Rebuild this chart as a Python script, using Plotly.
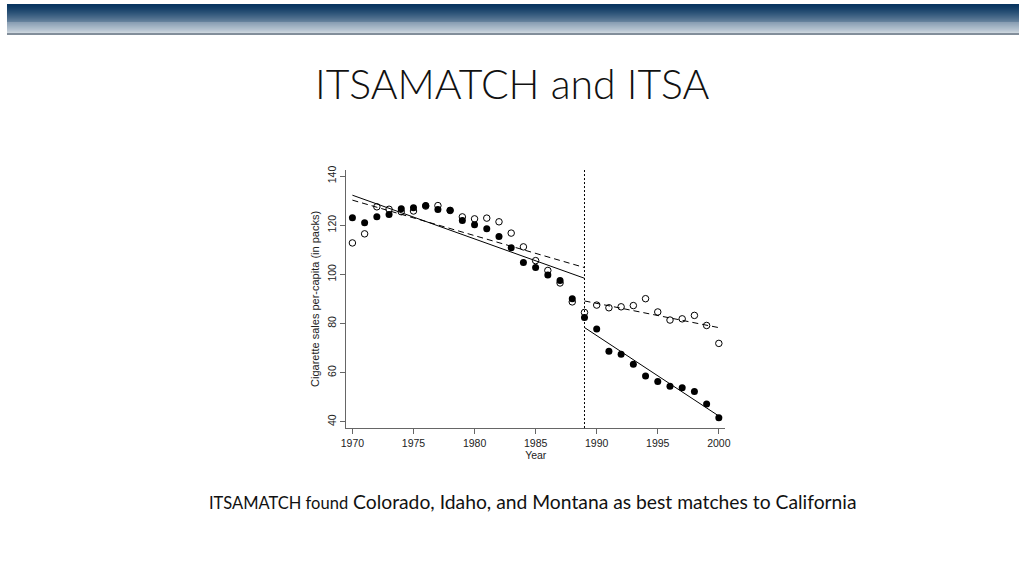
import numpy as np
import plotly.graph_objects as go

# ---- data ----
years = list(range(1970, 2001))
california = [123.0, 121.0, 123.5, 124.4, 126.7, 127.1, 128.0, 126.4, 126.1, 121.9,
              120.2, 118.6, 115.4, 110.8, 104.8, 102.8, 99.7, 97.5, 90.1, 82.4,
              77.8, 68.7, 67.5, 63.4, 58.6, 56.4, 54.5, 53.8, 52.3, 47.2, 41.6]
controls = [112.8, 116.5, 127.5, 126.5, 125.5, 125.8, 127.8, 128.0, 126.0, 123.4,
            122.6, 122.9, 121.4, 116.8, 111.2, 105.6, 101.6, 96.5, 88.8, 84.5,
            87.5, 86.4, 86.8, 87.3, 90.1, 84.7, 81.4, 81.9, 83.3, 79.2, 71.9]
intervention_year = 1989
x_ticks = [1970, 1975, 1980, 1985, 1990, 1995, 2000]
y_ticks = [40, 60, 80, 100, 120, 140]

title_text = "ITSAMATCH and ITSA"
caption_small = "ITSAMATCH found"
caption_big = "Colorado, Idaho, and Montana as best matches to California"
x_title = "Year"
y_title = "Cigarette sales per-capita (in packs)"

yrs = np.array(years)
cal = np.array(california)
ctl = np.array(controls)
pre = yrs < intervention_year
post = yrs >= intervention_year


def seg_fit(y, mask, x_from, x_to):
    b, a = np.polyfit(yrs[mask], y[mask], 1)
    xs = np.array([x_from, x_to], dtype=float)
    return xs, a + b * xs


fig = go.Figure()

fig.add_trace(go.Scatter(x=years, y=controls, mode="markers",
                         marker=dict(symbol="circle-open", size=6.5, color="black",
                                     line=dict(width=1, color="black")),
                         showlegend=False))
fig.add_trace(go.Scatter(x=years, y=california, mode="markers",
                         marker=dict(symbol="circle", size=7, color="black"),
                         showlegend=False))

for y, dash in [(cal, "solid"), (ctl, "6px,4px")]:
    xs, ys = seg_fit(y, pre, years[0], intervention_year)
    fig.add_trace(go.Scatter(x=xs, y=ys, mode="lines",
                             line=dict(color="black", width=1, dash=dash), showlegend=False))
    xs, ys = seg_fit(y, post, intervention_year, years[-1])
    fig.add_trace(go.Scatter(x=xs, y=ys, mode="lines",
                             line=dict(color="black", width=1, dash=dash), showlegend=False))

W, H = 1024, 576
x0p, x1p, y0p, y1p = 344, 727, 167, 427

shapes = []
# header gradient
top = np.array([8, 53, 96])
bot = np.array([186, 199, 211])
n = 29
for i in range(n):
    t = (i / (n - 1)) ** 1.3
    c = top * (1 - t) + bot * t
    shapes.append(dict(type="rect", xref="paper", yref="paper",
                       x0=1 / W, x1=1, y0=1 - (i + 1) / H, y1=1 - i / H,
                       line=dict(width=0), fillcolor="rgb(%d,%d,%d)" % tuple(c.astype(int)),
                       layer="below"))
shapes.append(dict(type="rect", xref="paper", yref="paper", x0=1 / W, x1=1,
                   y0=1 - 31 / H, y1=1 - 29.5 / H, line=dict(width=0),
                   fillcolor="rgb(88,104,120)", layer="below"))
# intervention line
shapes.append(dict(type="line", xref="x", yref="paper", x0=intervention_year, x1=intervention_year,
                   y0=1 - y1p / H, y1=1 - y0p / H,
                   line=dict(color="black", width=1, dash="2px,2px")))

axis_font = dict(family="Liberation Sans, Arial", size=10.5, color="#222")

fig.update_layout(
    width=W, height=H, autosize=False,
    margin=dict(l=0, r=0, t=0, b=0),
    paper_bgcolor="white", plot_bgcolor="white",
    shapes=shapes,
    xaxis=dict(domain=[x0p / W, x1p / W], range=[1969.5, 2000.52],
               tickvals=x_ticks, ticks="outside", ticklen=5, tickcolor="#666",
               showline=True, linecolor="#666", linewidth=1, showgrid=False, zeroline=False,
               tickfont=axis_font,
               title=dict(text=x_title, standoff=2, font=axis_font)),
    yaxis=dict(domain=[1 - y1p / H, 1 - y0p / H], range=[37.45, 142.55],
               tickvals=y_ticks, ticks="outside", ticklen=5, tickcolor="#666", tickangle=-90,
               showline=True, linecolor="#666", linewidth=1, showgrid=False, zeroline=False,
               tickfont=axis_font,
               title=dict(text=y_title, standoff=4,
                          font=dict(family="Liberation Sans, Arial", size=11, color="#222"))),
    annotations=[
        dict(text=title_text, xref="paper", yref="paper", x=512 / W, y=1 - 80 / H,
             xanchor="center", yanchor="middle", showarrow=False,
             font=dict(family="Lato", size=41, color="#111", weight=300)),
        dict(text="<span style='font-size:16.5px'>%s</span> %s" % (caption_small, caption_big),
             xref="paper", yref="paper", x=533 / W, y=1 - 501 / H,
             xanchor="center", yanchor="middle", showarrow=False,
             font=dict(family="Lato", size=19.3, color="#111")),
    ],
)

fig.write_html(
    "out.html",
    config={"displayModeBar": False},
    post_script="document.body.style.margin='0';"
                "document.body.style.overflow='hidden';"
                "document.documentElement.style.overflow='hidden';",
)
